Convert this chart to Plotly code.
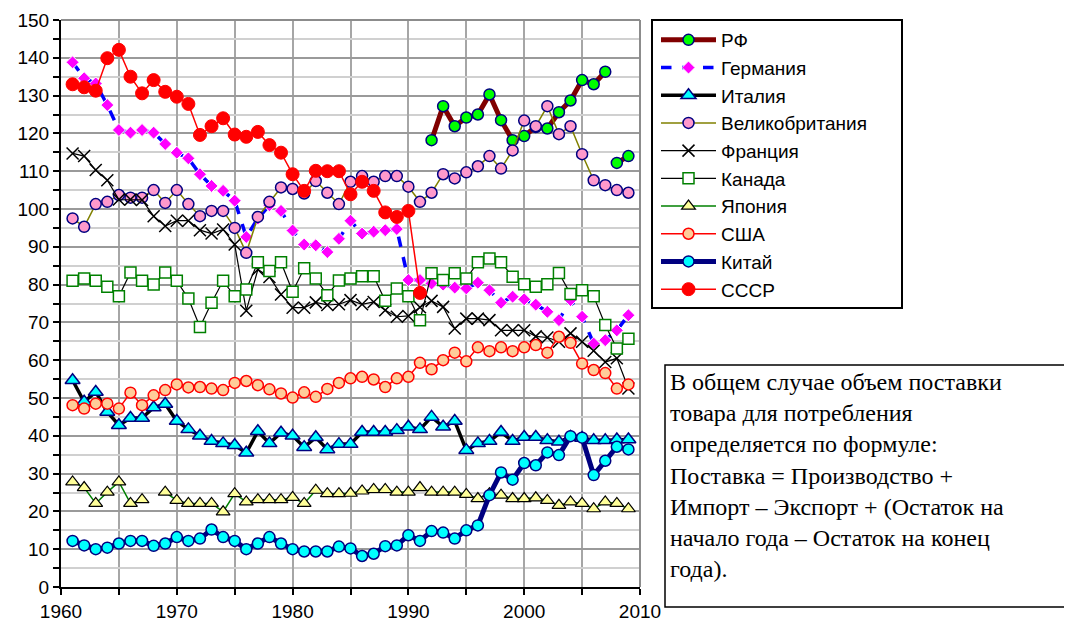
import plotly.graph_objects as go

# ---------------- data ----------------
years = list(range(1961, 2010))
ussr_years = list(range(1961, 1992))
rf_years = list(range(1992, 2010))

rf = [118.2, 127.2, 121.9, 124.2, 125.0, 130.3, 123.5, 118.2, 119.3, 121.7,
      121.3, 125.6, 128.7, 134.1, 133.0, 136.3, 112.2, 114.0]

germany = [138.8, 134.6, 133.2, 127.5, 120.9, 120.2, 120.9, 120.2, 117.2, 114.9,
           113.4, 109.2, 106.1, 104.8, 102.2, 92.6, 97.5, 101.0, 99.5, 94.3,
           90.6, 90.4, 88.6, 92.1, 96.9, 93.5, 94.0, 94.4, 94.7, 81.2,
           81.2, 80.3, 80.0, 79.2, 79.0, 80.5, 78.5, 75.2, 76.8, 76.1,
           74.7, 72.8, 70.6, 75.9, 71.5, 64.4, 65.3, 67.9, 71.9]

italy = [54.7, 49.0, 51.6, 46.3, 42.8, 44.7, 44.7, 47.5, 48.4, 43.9,
         41.7, 40.0, 38.6, 38.0, 37.5, 35.5, 41.2, 38.0, 40.8, 40.0,
         37.0, 39.6, 36.4, 37.8, 37.8, 41.0, 41.0, 41.0, 41.5, 42.4,
         41.7, 45.0, 42.4, 43.9, 36.2, 38.0, 38.6, 41.0, 38.6, 39.7,
         39.7, 38.8, 38.4, 39.7, 39.4, 38.8, 38.8, 39.0, 39.0]

uk = [97.5, 95.3, 101.3, 101.9, 103.7, 103.0, 103.0, 105.0, 101.6, 105.0,
      101.3, 98.1, 99.5, 99.5, 95.0, 88.4, 97.9, 101.9, 105.7, 105.3,
      104.1, 107.4, 104.3, 101.3, 107.2, 108.7, 107.2, 108.7, 108.7, 105.9,
      101.9, 104.3, 109.2, 108.1, 109.7, 111.3, 114.0, 110.7, 115.5, 123.4,
      121.9, 127.2, 119.8, 121.9, 114.5, 107.6, 106.3, 105.0, 104.3]

france = [114.7, 114.0, 110.3, 107.6, 102.5, 102.5, 102.4, 98.1, 95.5, 96.9,
          96.9, 94.4, 93.5, 94.6, 90.6, 73.1, 84.0, 82.0, 77.4, 73.9,
          73.9, 75.3, 74.6, 74.8, 75.9, 74.8, 75.4, 73.2, 71.5, 71.7,
          74.0, 75.7, 74.1, 68.4, 71.0, 71.0, 70.6, 67.9, 67.9, 67.9,
          66.3, 66.0, 64.9, 67.1, 64.9, 62.5, 59.5, 60.5, 52.5]

canada = [81.0, 81.6, 81.0, 79.4, 76.9, 83.2, 81.0, 80.0, 83.2, 81.0,
          76.3, 68.8, 75.2, 81.0, 76.9, 78.7, 85.9, 83.6, 85.9, 78.1,
          84.3, 81.6, 77.2, 81.1, 81.6, 82.2, 82.2, 75.7, 79.0, 76.9,
          70.6, 83.0, 81.2, 83.0, 81.6, 85.9, 86.9, 85.9, 82.1, 80.1,
          79.4, 80.1, 83.1, 77.5, 78.5, 76.9, 69.3, 63.1, 65.7]

japan = [27.8, 26.3, 22.1, 25.1, 27.8, 22.1, 23.1, None, 25.1, 22.9,
         22.1, 22.1, 22.1, 19.9, 24.7, 22.5, 23.1, 23.1, 23.1, 23.7,
         22.1, 25.6, 24.7, 24.7, 24.8, 25.4, 25.8, 25.8, 25.1, 25.1,
         26.3, 25.1, 25.1, 25.1, 24.5, 23.4, 24.7, 24.3, 23.4, 23.4,
         23.6, 22.9, 21.6, 22.5, 22.1, 20.7, 22.5, 22.1, 20.7]

usa = [48.1, 47.2, 48.5, 48.5, 47.2, 51.4, 48.1, 50.7, 52.1, 53.6,
       52.8, 52.9, 52.5, 52.1, 54.0, 54.5, 53.4, 52.3, 51.2, 50.1,
       51.5, 50.3, 52.4, 54.0, 55.2, 55.6, 54.9, 52.9, 55.2, 55.6,
       59.3, 57.6, 60.0, 62.0, 59.7, 63.4, 62.4, 63.4, 62.4, 63.4,
       64.0, 62.0, 66.2, 64.6, 59.1, 57.4, 56.6, 52.5, 53.6]

china = [12.2, 11.0, 10.0, 10.4, 11.5, 12.2, 12.2, 10.9, 11.5, 13.2,
         12.2, 12.8, 15.2, 13.2, 12.2, 10.0, 11.5, 13.2, 11.5, 10.0,
         9.4, 9.4, 9.4, 10.7, 10.2, 8.2, 8.8, 10.8, 11.0, 13.7,
         12.2, 14.8, 14.4, 12.8, 15.0, 16.3, 24.3, 30.3, 28.4, 32.8,
         32.2, 35.6, 34.9, 39.9, 39.5, 29.6, 33.4, 37.1, 36.4]

ussr = [133.0, 132.2, 131.3, 139.9, 142.1, 135.0, 130.6, 134.1, 131.0, 129.7,
        127.8, 119.6, 121.9, 124.0, 119.7, 119.1, 120.4, 116.9, 114.9, 109.2,
        104.8, 110.1, 110.0, 110.0, 103.9, 107.2, 104.8, 99.1, 97.9, 99.5,
        77.8]

x_ticks = [1960, 1970, 1980, 1990, 2000, 2010]
y_ticks = list(range(0, 151, 10))

note_lines = ["В общем случае объем поставки",
              "товара для потребления",
              "определяется по формуле:",
              "Поставка = Производство +",
              "Импорт – Экспорт + (Остаток на",
              "начало года – Остаток на конец",
              "года)."]

# ---------------- figure ----------------
fig = go.Figure()

def add(name, x, y, line, marker, group, showlegend=True):
    fig.add_trace(go.Scatter(x=x, y=y, name=name, mode="lines+markers",
                             line=line, marker=marker, legendgroup=group,
                             showlegend=showlegend, connectgaps=False))

rf_split = rf_years.index(2008)
add("РФ", rf_years[:rf_split], rf[:rf_split],
    dict(color="#800000", width=5),
    dict(symbol="circle", size=11, color="#00FF00", line=dict(color="#000080", width=1.5)), "rf")
add("РФ", rf_years[rf_split:], rf[rf_split:],
    dict(color="#800000", width=5),
    dict(symbol="circle", size=11, color="#00FF00", line=dict(color="#000080", width=1.5)), "rf", False)
add("Германия", years, germany,
    dict(color="#0000FF", width=3.5, dash="dash"),
    dict(symbol="diamond", size=10, color="#FF00FF", line=dict(color="white", width=1)), "de")
add("Италия", years, italy,
    dict(color="#000000", width=3.5),
    dict(symbol="triangle-up", size=13, color="#00FFFF", line=dict(color="#000080", width=1.5)), "it")
add("Великобритания", years, uk,
    dict(color="#808000", width=1.5),
    dict(symbol="circle", size=11, color="#FF99CC", line=dict(color="#000080", width=1.5)), "uk")
add("Франция", years, france,
    dict(color="#000000", width=1.2),
    dict(symbol="x-thin", size=12, color="#000000", line=dict(color="#000000", width=1.5)), "fr")
add("Канада", years, canada,
    dict(color="#000000", width=1.2),
    dict(symbol="square", size=11, color="white", line=dict(color="#008000", width=1.5)), "ca")
add("Япония", years, japan,
    dict(color="#008000", width=1.5),
    dict(symbol="triangle-up", size=12, color="#FFFF99", line=dict(color="#000000", width=1.2)), "jp")
add("США", years, usa,
    dict(color="#FF0000", width=1.5),
    dict(symbol="circle", size=11, color="#FFCC99", line=dict(color="#FF0000", width=1.5)), "us")
add("Китай", years, china,
    dict(color="#000080", width=5),
    dict(symbol="circle", size=11, color="#00FFFF", line=dict(color="#000080", width=1.5)), "cn")
add("СССР", ussr_years, ussr,
    dict(color="#FF0000", width=1.5),
    dict(symbol="circle", size=13, color="#FF0000", line=dict(color="#FF0000", width=1)), "su")

font_family = "Liberation Sans, Arial, sans-serif"

# the page adds an 8 px body margin, so the figure is drawn 8 px smaller
W, H = 1064, 615
ML, MR, MT, MB = 53, 432, 12, 36
pw, ph = W - ML - MR, H - MT - MB

def px_x(px):  # page pixel -> paper x
    return (px - 8 - ML) / pw

def px_y(py):  # page pixel -> paper y
    return 1 - (py - 8 - MT) / ph

fig.update_layout(
    width=W, height=H,
    margin=dict(l=ML, r=MR, t=MT, b=MB, autoexpand=False),
    paper_bgcolor="white", plot_bgcolor="white",
    font=dict(family=font_family, size=19, color="black"),
    showlegend=True,
    legend=dict(x=px_x(656), xanchor="left", y=px_y(21), yanchor="top",
                bgcolor="rgba(0,0,0,0)", borderwidth=0,
                font=dict(family=font_family, size=19, color="black"),
                tracegroupgap=3, traceorder="normal", itemwidth=55),
    xaxis=dict(range=[1960, 2010], tickvals=x_ticks, ticks="outside", ticklen=6,
               tickcolor="black", tickwidth=1.5, automargin=False,
               showline=True, linecolor="black", linewidth=2,
               showgrid=True, gridcolor="#a6a6a6", gridwidth=1.5,
               minor=dict(dtick=5, tick0=1960, ticks="outside", ticklen=6, tickcolor="black",
                          showgrid=True, gridcolor="#a6a6a6", gridwidth=1.5),
               zeroline=False, tickfont=dict(size=19)),
    yaxis=dict(range=[0, 150], tickvals=y_ticks, ticks="outside", ticklen=6,
               tickcolor="black", tickwidth=1.5, automargin=False,
               showline=True, linecolor="black", linewidth=2,
               showgrid=True, gridcolor="#9a9a9a", gridwidth=1.5,
               minor=dict(dtick=5, tick0=0, ticks="outside", ticklen=6, tickcolor="black",
                          showgrid=True, gridcolor="#d0d0d0", gridwidth=2),
               zeroline=False, tickfont=dict(size=19)),
)

# top / right frame of the plot area
fig.add_shape(type="line", xref="paper", yref="paper", x0=0, x1=1, y0=1, y1=1,
              line=dict(color="#8c8c8c", width=2))
fig.add_shape(type="line", xref="paper", yref="paper", x0=1, x1=1, y0=0, y1=1,
              line=dict(color="#8c8c8c", width=2))

# legend frame
fig.add_shape(type="rect", xref="paper", yref="paper",
              x0=px_x(652), x1=px_x(902), y0=px_y(308), y1=px_y(20),
              line=dict(color="black", width=2), fillcolor="white", layer="above")

# text box
fig.add_shape(type="rect", xref="paper", yref="paper",
              x0=px_x(665), x1=px_x(1068), y0=px_y(607), y1=px_y(365),
              line=dict(color="black", width=1.5), fillcolor="white", layer="above")
fig.add_annotation(xref="paper", yref="paper", x=px_x(668), y=px_y(367),
                   xanchor="left", yanchor="top",
                   text="<br>".join(note_lines), showarrow=False,
                   align="left", valign="top",
                   font=dict(family="Liberation Serif, Times New Roman, serif", size=24,
                             color="black"))

fig.write_html("out.html")
